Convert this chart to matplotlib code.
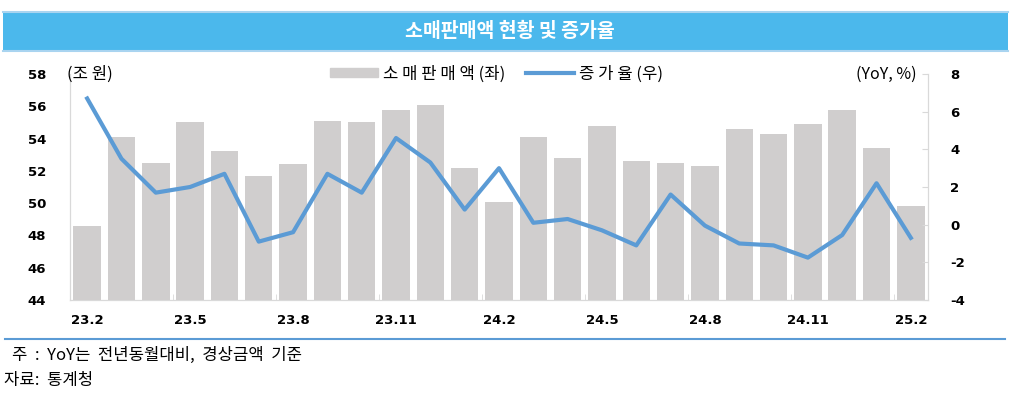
import matplotlib.pyplot as plt
import matplotlib.patches as mpatches
from matplotlib.lines import Line2D
import numpy as np

plt.rcParams['font.family'] = ['Noto Sans CJK KR', 'DejaVu Sans']
plt.rcParams['axes.unicode_minus'] = False

months = ['23.2', '23.3', '23.4', '23.5', '23.6', '23.7', '23.8', '23.9', '23.10', '23.11', '23.12',
          '24.1', '24.2', '24.3', '24.4', '24.5', '24.6', '24.7', '24.8', '24.9', '24.10', '24.11',
          '24.12', '25.1', '25.2']
# 소매판매액 (조 원)
sales = [48.6, 54.1, 52.5, 55.0, 53.2, 51.7, 52.4, 55.1, 55.0, 55.8, 56.1,
         52.2, 50.1, 54.1, 52.8, 54.8, 52.6, 52.5, 52.3, 54.6, 54.3, 54.9,
         55.8, 53.4, 49.8]
# 증가율 (YoY, %)
growth = [6.7, 3.5, 1.7, 2.0, 2.7, -0.9, -0.4, 2.7, 1.7, 4.6, 3.3,
          0.8, 3.0, 0.1, 0.3, -0.3, -1.1, 1.6, -0.05, -1.0, -1.1, -1.75,
          -0.55, 2.2, -0.7]

bar_c = '#d0cece'
line_c = '#5b9bd5'
spine_c = '#d9d9d9'

fig = plt.figure(figsize=(10.12, 3.97), dpi=100)

# title banner
fig.patches.append(mpatches.Rectangle((3 / 1012, 1 - 51 / 397), 1005 / 1012, 39 / 397,
                                      transform=fig.transFigure, facecolor='#4bb8ec',
                                      edgecolor='none', zorder=0))
fig.add_artist(Line2D([3 / 1012, 1008 / 1012], [1 - 12 / 397] * 2, color='#a9d4f0', lw=1.5))
fig.add_artist(Line2D([3 / 1012, 1008 / 1012], [1 - 51 / 397] * 2, color='#a9d4f0', lw=1.5))
fig.text(510 / 1012, 1 - 31 / 397, '소매판매액 현황 및 증가율', color='white', fontsize=14,
         fontweight='bold', ha='center', va='center')

ax = fig.add_axes([70 / 1012, 1 - 300 / 397, 858 / 1012, 226 / 397])
x = np.arange(len(months))
ax.bar(x, sales, width=0.8, color=bar_c, zorder=2)
ax.set_ylim(44, 58)
ax.set_xlim(-0.5, len(months) - 0.5)
ax.set_yticks(np.arange(44, 59, 2))

ax2 = ax.twinx()
ax2.plot(x, growth, color=line_c, lw=3, zorder=3)
ax2.set_ylim(-4, 8)
ax2.set_yticks(np.arange(-4, 9, 2))

ax.set_xticks(x[::3])
ax.set_xticklabels(months[::3])
ax.set_xticks(np.arange(2.5, len(months) - 1, 3), minor=True)

for a in (ax, ax2):
    for s in a.spines.values():
        s.set_color(spine_c)
    a.spines['top'].set_visible(False)

ax.tick_params(axis='x', which='major', length=0, pad=10, labelsize=9.5)
ax.tick_params(axis='x', which='minor', direction='in', length=4, color=spine_c)
ax.tick_params(axis='y', length=0, pad=17, labelsize=9.5)
ax2.tick_params(axis='y', direction='in', length=4, color=spine_c, pad=16, labelsize=9.5)
for lab in ax.get_xticklabels() + ax.get_yticklabels() + ax2.get_yticklabels():
    lab.set_fontweight('bold')
    lab.set_family('DejaVu Sans')

fig.text(67 / 1012, 1 - 74 / 397, '(조 원)', fontsize=12, va='center', ha='left')
fig.text(917 / 1012, 1 - 74 / 397, '(YoY, %)', fontsize=11.5, va='center', ha='right')

handles = [mpatches.Patch(color=bar_c, label='소 매 판 매 액 (좌)'),
           Line2D([], [], color=line_c, lw=3, label='증 가 율 (우)')]
fig.legend(handles=handles, loc='center left', bbox_to_anchor=(330 / 1012, 1 - 74 / 397),
           ncol=2, frameon=False, fontsize=12, handlelength=2.9, handleheight=0.5,
           handletextpad=0.3, columnspacing=1.2, borderpad=0, borderaxespad=0)

fig.add_artist(Line2D([5 / 1012, 1005 / 1012], [1 - 339 / 397] * 2, color='#5b9bd5', lw=1.5))
fig.text(12 / 1012, 1 - 355 / 397, '주  :  YoY는  전년동월대비,  경상금액  기준', fontsize=12, va='center')
fig.text(4 / 1012, 1 - 381 / 397, '자료:  통계청', fontsize=12, va='center')

fig.savefig('out.png', dpi=100)
